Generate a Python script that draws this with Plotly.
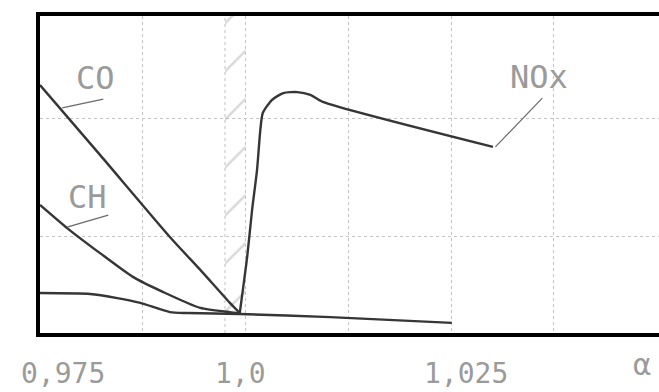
import plotly.graph_objects as go

# ---- data (alpha = excess air ratio, y = relative concentration, arbitrary units 0..100)
co_alpha = [0.975, 0.9823, 0.9908, 0.9945, 0.9981, 0.9993]
co_val = [78.2, 56.2, 30.3, 19.9, 9.5, 6.3]

ch_alpha = [0.975, 0.9783, 0.9823, 0.9863, 0.9900, 0.9945, 0.9981, 0.9993]
ch_val = [40.4, 33.1, 25.2, 17.7, 12.9, 7.9, 6.6, 6.3]

low_alpha = [0.975, 0.9811, 0.9844, 0.9872, 0.9908, 0.9929, 0.9993, 1.0103, 1.0251]
low_val = [12.6, 12.3, 11.0, 9.5, 6.6, 6.3, 6.0, 5.0, 3.2]

nox_alpha = [0.9993, 1.0002, 1.0008, 1.0014, 1.0018, 1.0021, 1.0032, 1.0046,
             1.0063, 1.0079, 1.0094, 1.0301]
nox_val = [6.3, 24.0, 38.8, 51.4, 64.0, 69.4, 73.5, 75.7, 76.0, 75.1, 72.9, 58.7]

band_alpha = [0.9975, 1.0]          # hatched stoichiometric band

grid_alpha = [0.9875, 1.0, 1.0125, 1.025, 1.0375]
grid_val = [30.3, 67.8]

tick_vals = [0.975, 1.0, 1.025]
tick_text = ["0,975", "1,0", "1,025"]
axis_title = "α"
axis_title_x = 1.0482

label_text = ["CO", "CH", "NOx"]
label_x = [0.9818, 0.9808, 1.0357]
label_y = [80.4, 42.9, 80.8]
leader_x0 = [0.9827, 0.9833, 1.0361]
leader_y0 = [73.8, 37.2, 74.1]
leader_x1 = [0.9777, 0.9783, 1.0304]
leader_y1 = [71.0, 33.4, 58.7]

X_RANGE = [0.975, 1.0503]
Y_RANGE = [0, 100]

LINE_COLOR = "#363636"
TEXT_COLOR = "#9a9a9a"
FONT = "DejaVu Sans Mono"

fig = go.Figure()

# hatched band
fig.add_trace(go.Scatter(
    x=[band_alpha[0], band_alpha[1], band_alpha[1], band_alpha[0], band_alpha[0]],
    y=[Y_RANGE[0], Y_RANGE[0], Y_RANGE[1], Y_RANGE[1], Y_RANGE[0]],
    fill="toself", mode="lines",
    line=dict(color="rgba(0,0,0,0)", width=0),
    fillcolor="rgba(0,0,0,0)",
    fillpattern=dict(shape="/", fgcolor="#b0b0b0", bgcolor="rgba(255,255,255,0)",
                     size=34, solidity=0.07),
    hoverinfo="skip", showlegend=False))
fig.add_trace(go.Scatter(
    x=[band_alpha[0], band_alpha[0]], y=Y_RANGE, mode="lines",
    line=dict(color="#c2c2c2", width=1, dash="dot"),
    hoverinfo="skip", showlegend=False))

for xs, ys in [(co_alpha, co_val), (ch_alpha, ch_val), (low_alpha, low_val)]:
    fig.add_trace(go.Scatter(x=xs, y=ys, mode="lines",
                             line=dict(color=LINE_COLOR, width=2.4, shape="spline", smoothing=0.6),
                             showlegend=False, hoverinfo="skip"))
fig.add_trace(go.Scatter(x=nox_alpha, y=nox_val, mode="lines",
                         line=dict(color=LINE_COLOR, width=2.4, shape="spline", smoothing=0.6),
                         showlegend=False, hoverinfo="skip"))

# leader lines
for i in range(len(label_text)):
    fig.add_trace(go.Scatter(x=[leader_x0[i], leader_x1[i]], y=[leader_y0[i], leader_y1[i]],
                             mode="lines", line=dict(color="#6a6a6a", width=1.2),
                             showlegend=False, hoverinfo="skip"))

annotations = []
for t, x, y in zip(label_text, label_x, label_y):
    annotations.append(dict(x=x, y=y, text=t, showarrow=False,
                            font=dict(family=FONT, size=32, color=TEXT_COLOR)))

tick_shift = [23, -5, 15]
for v, t, s in zip(tick_vals, tick_text, tick_shift):
    annotations.append(dict(x=v, y=0, xref="x", yref="paper", text=t, showarrow=False,
                            xshift=s, yshift=-40, yanchor="middle",
                            font=dict(family=FONT, size=28, color=TEXT_COLOR)))
annotations.append(dict(x=axis_title_x, y=0, xref="x", yref="paper", text=axis_title,
                        showarrow=False, yshift=-31, yanchor="middle",
                        font=dict(family=FONT, size=30, color=TEXT_COLOR)))

fig.update_layout(
    width=659, height=392,
    margin=dict(l=40, r=0, t=16, b=59, autoexpand=False),
    paper_bgcolor="white", plot_bgcolor="white",
    annotations=annotations,
    hovermode=False,
    xaxis=dict(range=X_RANGE, tickvals=grid_alpha, showticklabels=False, ticks="",
               showgrid=True, gridcolor="#c4c4c4", gridwidth=1, griddash="dot",
               showline=True, linecolor="black", linewidth=4, mirror=True, zeroline=False),
    yaxis=dict(range=Y_RANGE, tickvals=grid_val, showticklabels=False, ticks="",
               showgrid=True, gridcolor="#c4c4c4", gridwidth=1, griddash="dot",
               showline=True, linecolor="black", linewidth=4, mirror=False, zeroline=False),
)

fig.write_html("out.html",
               config={"displayModeBar": False, "staticPlot": True},
               post_script="document.body.style.margin='0';document.body.style.overflow='hidden';")
